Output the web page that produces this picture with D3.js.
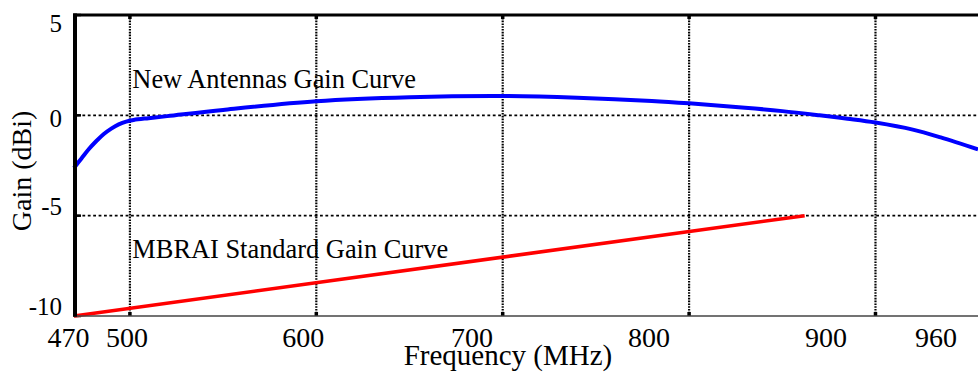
<!DOCTYPE html>
<html><head><meta charset="utf-8">
<script src="https://cdn.jsdelivr.net/npm/d3@7"></script>
<style>html,body{margin:0;padding:0;background:#fff;}svg{display:block;}</style>
</head><body><svg id="c" width="978" height="375"></svg>
<script>
// ---- data ----
const freqNew = [470, 474, 478, 482, 486, 490, 494, 498, 502, 510, 520, 550, 600, 650, 700, 740, 780, 800, 830, 850, 870, 885, 900, 920, 935, 955];
const gainNew = [-2.62, -2.15, -1.68, -1.28, -0.93, -0.66, -0.45, -0.31, -0.23, -0.14, -0.04, 0.27, 0.70, 0.90, 0.96, 0.88, 0.72, 0.60, 0.38, 0.21, 0.0, -0.17, -0.36, -0.71, -1.10, -1.70];
const freqMBRAI = [470, 862];
const gainMBRAI = [-10, -5];
const xGridValues = [500, 600, 700, 800, 900];
const yGridValues = [0, -5];
const xTickLabels = ["470", "500", "600", "700", "800", "900", "960"];
const xTickLabelAt = [467, 498.4, 593, 683.5, 778.5, 873.5, 932.5];
const yTickLabels = ["5", "0", "-5", "-10"];
const yTickLabelAt = [4.6, -0.15, -4.55, -9.55];
const yTickValues = [5, 0, -5, -10];
const seriesLabels = ["New Antennas Gain Curve", "MBRAI Standard Gain Curve"];
const seriesLabelAt = [[501.3, 1.35], [501.3, -7.1]];
const xTitle = "Frequency (MHz)";
const yTitle = "Gain (dBi)";

const FONT = '"Liberation Serif"';

// ---- layout ----
const L = 74, R = 978, T = 15, B = 316;
const x = d3.scaleLinear().domain([470, 955]).range([L, R]);
const y = d3.scaleLinear().domain([-10, 5]).range([B, T]);
const svg = d3.select("#c");
svg.append("rect").attr("width", 978).attr("height", 375).attr("fill", "#fff");

// gridlines
svg.append("g").selectAll("line").data(yGridValues).join("line")
  .attr("x1", L + 3).attr("x2", R).attr("y1", d => y(d)).attr("y2", d => y(d))
  .attr("stroke", "#000").attr("stroke-width", 1.6).attr("stroke-dasharray", "2.8,2.6");
svg.append("g").selectAll("line").data(xGridValues).join("line")
  .attr("x1", d => x(d)).attr("x2", d => x(d)).attr("y1", T).attr("y2", B)
  .attr("stroke", "#000").attr("stroke-width", 2.2).attr("stroke-dasharray", "1.6,1.2");
// tick marks (inward)
const tk = svg.append("g");
xGridValues.forEach(v => {
  tk.append("line").attr("x1", x(v)).attr("x2", x(v)).attr("y1", B - 4).attr("y2", B).attr("stroke", "#000").attr("stroke-width", 3.5);
  tk.append("line").attr("x1", x(v)).attr("x2", x(v)).attr("y1", T).attr("y2", T + 4).attr("stroke", "#000").attr("stroke-width", 3.5);
});
yTickValues.forEach(v => {
  tk.append("line").attr("x1", L).attr("x2", L + 7).attr("y1", y(v)).attr("y2", y(v)).attr("stroke", "#000").attr("stroke-width", 2.5);
});

// curves
const line = d3.line().x(d => x(d[0])).y(d => y(d[1]));
svg.append("path").datum(freqMBRAI.map((f, i) => [f, gainMBRAI[i]]))
  .attr("d", line).attr("fill", "none").attr("stroke", "#ff0000").attr("stroke-width", 3.6);
svg.append("path").datum(freqNew.map((f, i) => [f, gainNew[i]]))
  .attr("d", line.curve(d3.curveCatmullRom.alpha(0.5))).attr("fill", "none").attr("stroke", "#0000ff").attr("stroke-width", 4);

// axes lines
svg.append("line").attr("x1", L - 1).attr("x2", R).attr("y1", B).attr("y2", B).attr("stroke", "#444").attr("stroke-width", 1.6);
svg.append("line").attr("x1", L - 1).attr("x2", R).attr("y1", T).attr("y2", T).attr("stroke", "#000").attr("stroke-width", 2.8);
svg.append("line").attr("x1", L + 1).attr("x2", L + 1).attr("y1", T - 1.4).attr("y2", B + 0.8).attr("stroke", "#000").attr("stroke-width", 4);

// tick labels
svg.append("g").selectAll("text").data(xTickLabels).join("text")
  .attr("x", (d, i) => x(xTickLabelAt[i])).attr("y", 347)
  .attr("text-anchor", "middle").style("font-family", FONT).style("font-size", "28px").text(d => d);
svg.append("g").selectAll("text").data(yTickLabels).join("text")
  .attr("x", 62).attr("y", (d, i) => y(yTickLabelAt[i]))
  .attr("dy", "0.34em").attr("text-anchor", "end").style("font-family", FONT).style("font-size", "25px").text(d => d);

// titles
svg.append("text").attr("x", 508).attr("y", 365).attr("text-anchor", "middle")
  .style("font-family", FONT).style("font-size", "29px").text(xTitle);
svg.append("text").attr("transform", "translate(31,171) rotate(-90)").attr("text-anchor", "middle")
  .style("font-family", FONT).style("font-size", "28px").text(yTitle);

// series annotations
svg.append("g").selectAll("text").data(seriesLabels).join("text")
  .attr("x", (d, i) => x(seriesLabelAt[i][0])).attr("y", (d, i) => y(seriesLabelAt[i][1]))
  .style("font-family", FONT).style("font-size", "26.4px").text(d => d);
</script></body></html>
